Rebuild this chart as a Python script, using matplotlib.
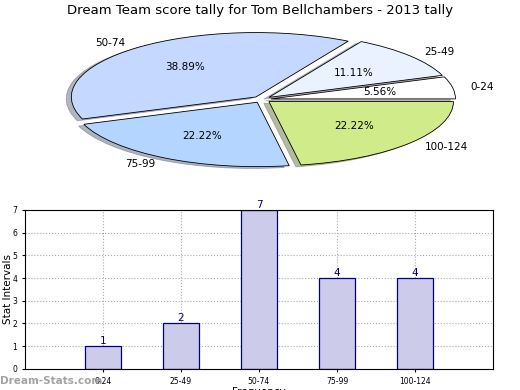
import matplotlib
matplotlib.use("Agg")
import matplotlib.pyplot as plt

# === Data ===
intervals = ["0-24", "25-49", "50-74", "75-99", "100-124"]
counts = [1, 2, 7, 4, 4]
pie_colors = ["#ffffff", "#eaf1ff", "#c5d8ff", "#b4d5ff", "#d0eb8a"]

fig = plt.figure(figsize=(5.2, 3.9), dpi=100)
fig.suptitle("Dream Team score tally for Tom Bellchambers - 2013 tally",
             fontsize=9.5, y=0.99)

# === Pie (squashed into an ellipse) ===
ax1 = fig.add_axes([0.106, 0.56, 0.795, 0.37])
ax1.pie(counts, labels=intervals, colors=pie_colors, autopct="%.2f%%",
        explode=[0.05] * len(counts), shadow={"shade": 0.5}, startangle=0,
        labeldistance=1.1, pctdistance=0.6,
        wedgeprops={"edgecolor": "black", "linewidth": 0.6},
        textprops={"fontsize": 7.5})
ax1.set_aspect("auto")
ax1.set_xlim(-1.12, 1.12)
ax1.set_ylim(-1.12, 1.12)

# === Bar chart ===
ax2 = fig.add_axes([0.048, 0.054, 0.9, 0.408])
pos = list(range(1, len(counts) + 1))
ax2.bar(pos, counts, width=0.46, color="#ccccea", edgecolor="#000080",
        linewidth=0.9, zorder=2)
for x, c in zip(pos, counts):
    ax2.text(x, c, str(c), ha="center", va="bottom", color="#000080",
             fontsize=7.5, zorder=3)
ax2.set_xlim(0, 6)
ax2.set_ylim(0, 7)
ax2.set_xticks(pos)
ax2.set_xticklabels(intervals, fontsize=5.5)
ax2.tick_params(axis="y", labelsize=5.5)
ax2.tick_params(length=2)
ax2.grid(True, linestyle=":", color="#aaaaaa", linewidth=0.8, zorder=0)
ax2.set_ylabel("Stat Intervals", fontsize=7.5)
ax2.yaxis.set_label_coords(-0.025, 0.5)
ax2.set_xlabel("Frequency", fontsize=7.5, labelpad=1)

fig.text(0.0, 0.015, "Dream-Stats.com", fontsize=7.5, color="#999999",
         fontweight="bold", alpha=0.9)

plt.savefig("out.png", dpi=100)
